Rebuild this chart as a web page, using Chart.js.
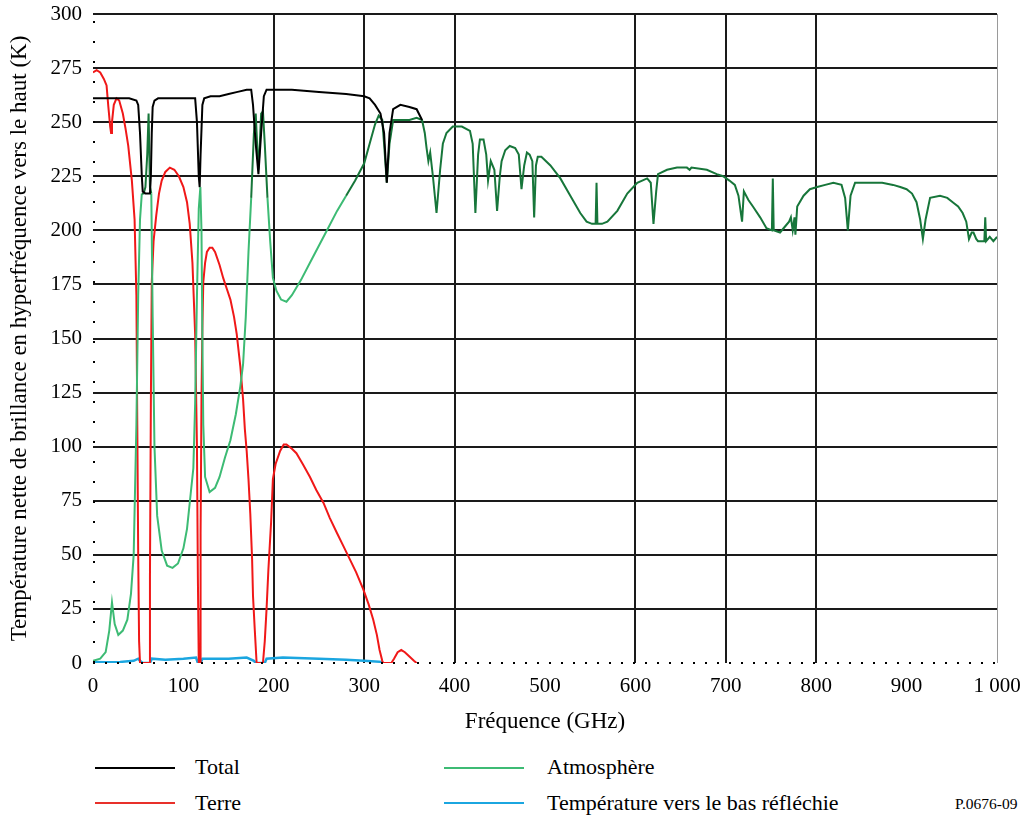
<!DOCTYPE html>
<html lang="fr">
<head>
<meta charset="utf-8">
<title>Température de brillance</title>
<script src="https://cdn.jsdelivr.net/npm/chart.js@4"></script>
<style>
  body { margin: 0; background: #fff; font-family: "Liberation Serif", "Times New Roman", serif; }
  #wrap { position: absolute; left: 0; top: 0; width: 1022px; height: 740px; }
  .leg { position: absolute; font-size: 22px; color: #000; line-height: 1; }
  .sw { position: absolute; height: 0; border-top: 2px solid; width: 80px; }
</style>
</head>
<body>
<div id="wrap"><canvas id="myChart"></canvas></div>

<!-- legend -->
<div class="sw" style="left:95px; top:767px; border-color:#000;"></div>
<div class="leg" style="left:195px; top:756px;">Total</div>
<div class="sw" style="left:95px; top:802px; border-color:#e8302a;"></div>
<div class="leg" style="left:195px; top:792px;">Terre</div>
<div class="sw" style="left:444px; top:767px; border-color:#3dbb74;"></div>
<div class="leg" style="left:547px; top:756px;">Atmosphère</div>
<div class="sw" style="left:444px; top:802px; border-color:#1ba6e0;"></div>
<div class="leg" style="left:547px; top:792px;">Température vers le bas réfléchie</div>
<div class="leg" style="left:955px; top:796px; font-size:15.5px;">P.0676-09</div>

<script>
// Values (GHz, K)
const totalFreq = [0, 10, 20, 30, 40, 48, 50, 52, 54, 55, 58, 61, 63, 64, 65, 66, 68, 72, 80, 100, 110, 113, 115, 117, 118, 119, 121, 123, 130, 140, 150, 160, 170, 175, 177, 180, 183, 186, 189, 192, 200, 220, 250, 280, 300, 306, 312, 318, 322, 325, 328, 332, 340, 350, 358, 364];
const totalTemp = [261, 261, 261, 261, 261, 260, 258, 245, 225, 218, 217, 217, 217, 225, 245, 257, 260, 261, 261, 261, 261, 261, 250, 225, 220, 235, 258, 261, 262, 262, 263, 264, 265, 265, 258, 240, 226, 245, 262, 265, 265, 265, 264, 263, 262, 261, 258, 254, 245, 222, 245, 256, 258, 257, 256, 251];

const atmoFreq = [0, 8, 14, 18, 21, 24, 28, 33, 38, 42, 45, 48, 50, 52, 54, 56, 58, 60, 61.5, 63, 64.5, 66, 68, 71, 76, 82, 88, 94, 100, 104, 108, 111, 113, 115, 117, 118.75, 120, 121, 122, 124, 129, 135, 140, 146, 152, 158, 163, 166, 169, 172, 175, 178, 180, 181.5, 183, 184.5, 186, 188, 190, 193, 196, 199, 203, 208, 214, 220, 230, 240, 250, 260, 270, 280, 290, 300, 306, 312, 316, 320, 322, 325, 328, 332, 340, 350, 358, 364, 367, 369, 371, 373, 376, 380, 384, 387, 391, 398, 408, 417, 420, 423, 426, 428, 432, 435, 437, 440, 444, 447, 450, 452, 456, 461, 467, 471, 474, 477, 480, 483, 486, 488, 490, 492, 496, 506, 517, 528, 539, 546, 552, 556, 557, 558, 563, 569, 580, 591, 602, 613, 617, 620, 623, 625, 635, 646, 657, 660, 662, 679, 690, 697, 704, 710, 714, 718, 720, 725, 730, 738, 745, 751, 752, 753, 760, 766, 770, 772, 774, 776, 777, 779, 786, 793, 801, 810, 819, 828, 832, 835, 838, 843, 860, 873, 885, 893, 900, 906, 911, 915, 918, 921, 926, 937, 945, 951, 957, 962, 966, 969, 972, 974, 977, 979, 983, 986, 987, 988, 992, 996, 1000];
const atmoTemp = [1, 2, 5, 15, 28, 18, 13, 15, 20, 32, 50, 110, 170, 205, 217, 217, 220, 235, 254, 220, 217, 160, 100, 68, 52, 45, 44, 46, 53, 62, 78, 90, 120, 170, 210, 220, 200, 150, 110, 86, 79, 81, 86, 95, 103, 115, 128, 138, 160, 190, 215, 245, 254, 240, 228, 240, 254, 255, 240, 215, 195, 178, 172, 168, 167, 170, 177, 185, 193, 201, 209, 216, 223, 231, 240, 249, 253, 251, 240, 222, 240, 251, 251, 251, 252, 251, 245, 238, 232, 236, 225, 208, 228, 240, 245, 248, 248, 246, 240, 208, 235, 242, 242, 235, 223, 232, 228, 209, 225, 232, 237, 239, 238, 235, 219, 230, 236, 235, 232, 206, 230, 234, 234, 230, 224, 216, 208, 204, 203, 203, 222, 203, 203, 204, 209, 217, 222, 224, 222, 203, 218, 226, 228, 229, 229, 228, 229, 228, 226, 225, 223, 221, 216, 204, 218, 214, 211, 206, 201, 200, 224, 200, 199, 202, 204, 206, 200, 206, 198, 211, 216, 219, 220, 221, 222, 221, 215, 200, 216, 222, 222, 222, 221, 220, 219, 217, 213, 205, 196, 205, 215, 216, 215, 213, 211, 208, 204, 196, 199, 199, 196, 195, 195, 195, 206, 195, 197, 195, 197];

const terreFreq = [0, 4, 8, 12, 15, 17, 19, 20, 21, 23, 26, 29, 33, 36, 39, 43, 46, 48, 49, 50, 51, 52, 62, 63, 64, 65, 67, 70, 73, 76, 80, 85, 90, 95, 100, 104, 107, 110, 113, 115, 116, 117, 118.5, 119, 120, 121, 122, 124, 126, 129, 132, 135, 140, 144, 148, 152, 156, 159, 163, 166, 168, 170, 172, 174, 176, 177, 179, 181, 188, 190, 192, 194, 197, 199, 202, 207, 211, 214, 220, 225, 232, 240, 247, 255, 262, 270, 277, 284, 291, 299, 305, 310, 314, 317, 320, 321, 330, 333, 337, 341, 345, 350, 355, 358];
const terreTemp = [273, 274, 273, 270, 267, 257, 248, 245, 250, 258, 261, 260, 254, 247, 239, 223, 205, 170, 110, 50, 10, 0, 0, 40, 120, 176, 195, 207, 217, 223, 227, 229, 228, 225, 220, 213, 203, 185, 152, 100, 40, 0, 0, 60, 122, 155, 176, 185, 190, 192, 192, 190, 184, 178, 173, 168, 160, 152, 137, 122, 108, 98, 85, 69, 48, 31, 15, 0, 0, 10, 25, 43, 65, 85, 92, 98, 101, 101, 99, 97, 92, 86, 80, 74, 67, 60, 54, 48, 42, 34, 27, 20, 13, 6, 1, 0, 0, 2, 5, 6, 5, 3, 1, 0];

const reflFreq = [0, 15, 30, 45, 50, 52, 55, 63, 65, 80, 100, 114, 116, 119, 121, 150, 170, 178, 180, 190, 192, 210, 250, 280, 300, 320];
const reflTemp = [0.5, 0.3, 0.5, 1, 2, 1, 0, 0, 2, 1.5, 2, 2.5, 0, 0, 2, 2, 2.5, 1, 0, 0, 2, 2.5, 2, 1.5, 1, 0.5];

const xTicks = [0, 100, 200, 300, 400, 500, 600, 700, 800, 900, 1000];
const strongX = [200, 300, 400, 600, 700, 800];

function toPoints(xs, ys) {
  return xs.map((x, i) => ({ x: x, y: ys[i] }));
}

const lightGreen = '#3dbb74';
const darkGreen = '#17763a';
const serif = '"Liberation Serif", "Times New Roman", serif';

// dotted marks along the left and bottom edges of the plot
const dottedAxes = {
  id: 'dottedAxes',
  afterDatasetsDraw(chart) {
    const { ctx, chartArea } = chart;
    ctx.save();
    ctx.strokeStyle = '#000';
    ctx.lineWidth = 2;
    ctx.setLineDash([2, 10]);
    ctx.beginPath();
    ctx.moveTo(chartArea.left, chartArea.bottom);
    ctx.lineTo(chartArea.right, chartArea.bottom);
    ctx.stroke();
    ctx.setLineDash([2, 18]);
    ctx.beginPath();
    ctx.moveTo(chartArea.left + 1, chartArea.bottom);
    ctx.lineTo(chartArea.left + 1, chartArea.top);
    ctx.stroke();
    ctx.restore();
  }
};

const canvas = document.getElementById('myChart');

const chartData = {
  datasets: [
    {
      label: 'Total',
      data: toPoints(totalFreq, totalTemp),
      borderColor: '#000000',
      borderWidth: 2,
      pointRadius: 0
    },
    {
      label: 'Atmosphère',
      data: toPoints(atmoFreq, atmoTemp),
      borderColor: lightGreen,
      borderWidth: 2,
      pointRadius: 0,
      segment: {
        borderColor: ctx => {
          const a = ctx.p0.parsed, b = ctx.p1.parsed;
          if (a.x >= 318 || (a.y >= 212 && b.y >= 212)) return darkGreen;
          return lightGreen;
        }
      }
    },
    {
      label: 'Terre',
      data: toPoints(terreFreq, terreTemp),
      borderColor: '#f01818',
      borderWidth: 2,
      pointRadius: 0
    },
    {
      label: 'Température vers le bas réfléchie',
      data: toPoints(reflFreq, reflTemp),
      borderColor: '#1ba6e0',
      borderWidth: 2.5,
      pointRadius: 0
    }
  ]
};

const chartOptions = {
  responsive: true,
  maintainAspectRatio: false,
  animation: false,
  layout: { padding: { top: 14, right: 25, left: 0, bottom: 0 } },
  plugins: {
    legend: { display: false },
    tooltip: { enabled: false }
  },
  scales: {
    x: {
      type: 'linear',
      min: 0,
      max: 1000,
      afterFit: scale => {
        scale.height = 77;
        scale.paddingLeft = 0;
        scale.paddingRight = 0;
      },
      afterBuildTicks: scale => { scale.ticks = xTicks.map(v => ({ value: v })); },
      ticks: {
        color: '#000',
        padding: 11,
        maxRotation: 0,
        font: { family: serif, size: 21 },
        callback: v => v === 1000 ? '1 000' : String(v)
      },
      grid: {
        drawTicks: false,
        color: ctx => {
          const v = ctx.tick.value;
          if (strongX.includes(v)) return '#1a1a1a';
          if (v === 1000) return '#9a9a9a';
          return 'rgba(0,0,0,0)';
        },
        lineWidth: ctx => ctx.tick.value === 1000 ? 1 : 2
      },
      border: { display: false },
      title: {
        display: true,
        text: 'Fréquence (GHz)',
        color: '#000',
        font: { family: serif, size: 23 },
        padding: { top: 0, bottom: 4 }
      }
    },
    y: {
      min: 0,
      max: 300,
      afterFit: scale => {
        scale.width = 93;
        scale.paddingTop = 0;
        scale.paddingBottom = 0;
      },
      ticks: {
        stepSize: 25,
        color: '#000',
        padding: 11,
        font: { family: serif, size: 21 }
      },
      grid: {
        drawTicks: false,
        color: ctx => ctx.tick.value === 0 ? 'rgba(0,0,0,0)' : '#1a1a1a',
        lineWidth: 2
      },
      border: { display: false },
      title: {
        display: true,
        text: 'Température nette de brillance en hyperfréquence vers le haut (K)',
        color: '#000',
        font: { family: serif, size: 23 },
        padding: { top: 6, bottom: 0 }
      }
    }
  }
};

const brightnessChart = new Chart(canvas, {
  type: 'line',
  data: chartData,
  options: chartOptions,
  plugins: [dottedAxes]
});
</script>
</body>
</html>
